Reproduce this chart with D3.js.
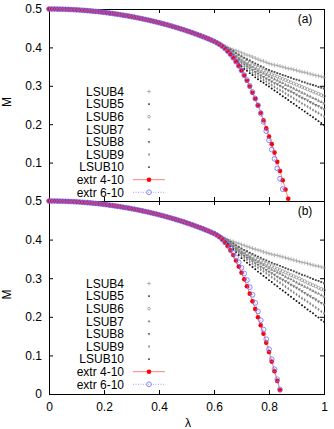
<!DOCTYPE html>
<html>
<head>
<meta charset="utf-8">
<script src="https://d3js.org/d3.v7.min.js"></script>
<style>
body { margin: 0; background: #fff; }
svg { display: block; }
text { font-family: "Liberation Sans", Arial, sans-serif; fill: #000; }
</style>
</head>
<body>
<svg id="chart" width="334" height="429"></svg>
<script>
// lambda grid: the common part runs 0..0.60, tails start at 0.61
var lambdaStep = 0.01
var tailStart = 0.61

// M(lambda) for 0 <= lambda <= 0.60, all series coincide there
var commonM = [
  0.5000, 0.5000, 0.4999, 0.4998, 0.4996, 0.4995, 0.4992, 0.4989, 0.4986, 0.4982,
  0.4978, 0.4973, 0.4968, 0.4963, 0.4957, 0.4951, 0.4944, 0.4936, 0.4929, 0.4921,
  0.4912, 0.4903, 0.4893, 0.4884, 0.4873, 0.4862, 0.4851, 0.4839, 0.4827, 0.4815,
  0.4801, 0.4788, 0.4774, 0.4759, 0.4744, 0.4728, 0.4713, 0.4696, 0.4679, 0.4662,
  0.4644, 0.4625, 0.4606, 0.4587, 0.4567, 0.4546, 0.4525, 0.4503, 0.4481, 0.4458,
  0.4434, 0.4410, 0.4385, 0.4360, 0.4333, 0.4306, 0.4279, 0.4250, 0.4221, 0.4190,
  0.4160
]

// panel (a) tails, lambda = 0.61 .. 1.00
var lsub4A = [0.413,0.410,0.406,0.403,0.400, 0.397,0.394,0.392,0.389,0.386, 0.383,0.380,0.378,0.375,0.372, 0.369,0.366,0.364,0.361,0.358, 0.356,0.354,0.353,0.351,0.349, 0.347,0.345,0.344,0.342,0.340, 0.338,0.336,0.335,0.333,0.331, 0.329,0.327,0.326,0.324,0.322]
var lsub5A = [0.413,0.409,0.405,0.402,0.398, 0.394,0.390,0.385,0.381,0.377, 0.373,0.369,0.366,0.362,0.358, 0.355,0.351,0.348,0.344,0.341, 0.338,0.336,0.333,0.331,0.328, 0.326,0.323,0.321,0.318,0.316, 0.314,0.311,0.309,0.306,0.304, 0.302,0.300,0.297,0.295,0.293]
var lsub6A = [0.413,0.409,0.405,0.401,0.397, 0.392,0.387,0.382,0.377,0.372, 0.368,0.363,0.359,0.354,0.350, 0.347,0.343,0.340,0.336,0.333, 0.330,0.327,0.324,0.321,0.318, 0.315,0.312,0.309,0.306,0.303, 0.300,0.297,0.294,0.291,0.288, 0.285,0.282,0.279,0.276,0.273]
var lsub7A = [0.412,0.409,0.404,0.400,0.395, 0.389,0.383,0.378,0.372,0.366, 0.361,0.357,0.352,0.348,0.343, 0.339,0.335,0.332,0.328,0.324, 0.321,0.317,0.314,0.310,0.307, 0.303,0.300,0.296,0.293,0.289, 0.286,0.282,0.279,0.275,0.272, 0.268,0.265,0.261,0.258,0.254]
var lsub8A = [0.412,0.408,0.403,0.398,0.393, 0.387,0.380,0.374,0.367,0.361, 0.356,0.351,0.346,0.341,0.336, 0.332,0.327,0.323,0.319,0.315, 0.311,0.307,0.304,0.300,0.296, 0.292,0.288,0.285,0.281,0.277, 0.273,0.269,0.266,0.262,0.258, 0.254,0.250,0.247,0.243,0.239]
var lsub9A = [0.412,0.408,0.403,0.397,0.391, 0.384,0.377,0.369,0.362,0.355, 0.350,0.345,0.339,0.334,0.329, 0.324,0.320,0.315,0.311,0.306, 0.302,0.297,0.293,0.289,0.285, 0.280,0.276,0.272,0.267,0.263, 0.259,0.254,0.250,0.246,0.242, 0.237,0.233,0.229,0.224,0.220]
var lsub10A = [0.412,0.407,0.402,0.396,0.389, 0.381,0.373,0.366,0.358,0.350, 0.344,0.339,0.333,0.328,0.322, 0.317,0.312,0.308,0.303,0.298, 0.293,0.288,0.283,0.278,0.273, 0.268,0.263,0.258,0.253,0.248, 0.243,0.238,0.233,0.228,0.223, 0.218,0.213,0.208,0.203,0.198]
var extr410A = [0.412,0.408,0.403,0.397,0.390,0.382,0.373,0.363,0.352,0.340,0.327,0.313,0.298,0.282,0.266,0.249,0.230,0.210,0.189,0.168,0.148,0.126,0.102,0.078,0.054,0.030,0.006]
var extr610A = [0.412,0.408,0.403,0.397,0.390,0.382,0.373,0.363,0.352,0.340,0.328,0.315,0.300,0.284,0.267,0.249,0.228,0.206,0.182,0.158,0.134,0.110,0.085,0.058,0.031]

// panel (b) tails
var lsub4B = [0.413,0.410,0.406,0.403,0.400, 0.397,0.395,0.392,0.390,0.387, 0.385,0.382,0.380,0.377,0.375, 0.373,0.371,0.368,0.366,0.364, 0.362,0.360,0.359,0.357,0.355, 0.353,0.351,0.349,0.347,0.345, 0.343,0.341,0.340,0.338,0.336, 0.334,0.332,0.331,0.329,0.327]
var lsub5B = [0.413,0.409,0.405,0.402,0.398, 0.394,0.390,0.385,0.381,0.377, 0.373,0.370,0.366,0.363,0.359, 0.356,0.353,0.349,0.346,0.343, 0.340,0.337,0.335,0.332,0.329, 0.326,0.323,0.321,0.318,0.315, 0.312,0.309,0.307,0.304,0.301, 0.298,0.295,0.293,0.290,0.287]
var lsub6B = [0.413,0.409,0.405,0.401,0.397, 0.392,0.387,0.382,0.377,0.372, 0.368,0.364,0.360,0.356,0.352, 0.348,0.345,0.341,0.338,0.334, 0.331,0.328,0.324,0.321,0.318, 0.315,0.312,0.308,0.305,0.302, 0.299,0.295,0.292,0.288,0.285, 0.282,0.279,0.275,0.272,0.269]
var lsub7B = [0.412,0.409,0.405,0.400,0.396, 0.390,0.385,0.379,0.374,0.368, 0.364,0.359,0.355,0.350,0.346, 0.342,0.338,0.334,0.330,0.326, 0.322,0.319,0.315,0.312,0.308, 0.304,0.300,0.297,0.293,0.289, 0.285,0.282,0.278,0.275,0.271, 0.267,0.263,0.260,0.256,0.252]
var lsub8B = [0.412,0.408,0.404,0.399,0.394, 0.388,0.382,0.375,0.369,0.363, 0.358,0.353,0.349,0.344,0.339, 0.335,0.330,0.326,0.321,0.317, 0.313,0.309,0.304,0.300,0.296, 0.292,0.288,0.283,0.279,0.275, 0.271,0.266,0.262,0.257,0.253, 0.249,0.245,0.240,0.236,0.232]
var lsub9B = [0.412,0.408,0.403,0.398,0.392, 0.385,0.378,0.372,0.365,0.358, 0.353,0.348,0.342,0.337,0.332, 0.327,0.322,0.318,0.313,0.308, 0.303,0.298,0.293,0.288,0.283, 0.278,0.273,0.268,0.263,0.258, 0.253,0.248,0.244,0.239,0.234, 0.229,0.224,0.219,0.214,0.209]
var lsub10B = [0.412,0.407,0.402,0.396,0.390, 0.382,0.375,0.367,0.360,0.352, 0.346,0.340,0.335,0.329,0.323, 0.317,0.312,0.306,0.301,0.295, 0.290,0.284,0.279,0.273,0.268, 0.263,0.257,0.252,0.246,0.241, 0.236,0.230,0.225,0.219,0.214, 0.209,0.203,0.198,0.192,0.187]
var extr410B = [0.412,0.407,0.400,0.392,0.383,0.372,0.360,0.346,0.330,0.314,0.297,0.279,0.260,0.240,0.220,0.199,0.178,0.156,0.133,0.109,0.084,0.059,0.034,0.010]
var extr610B = [0.412,0.407,0.401,0.394,0.386,0.377,0.366,0.354,0.341,0.327,0.312,0.295,0.277,0.257,0.236,0.214,0.191,0.167,0.142,0.116,0.090,0.064,0.038,0.012]

var seriesNames = ['LSUB4', 'LSUB5', 'LSUB6', 'LSUB7', 'LSUB8', 'LSUB9', 'LSUB10', 'extr 4-10', 'extr 6-10']
var xTicks = [0, 0.2, 0.4, 0.6, 0.8, 1]
var yTicks = [0, 0.1, 0.2, 0.3, 0.4, 0.5]

// marker looks for the LSUB series (gnuplot-ish point types, tiny and grey)
var lsubStyle = [
  { type: d3.symbolPlus || d3.symbolCross, size: 7, fill: 'none', stroke: '#9a9a9a', sw: 0.7 },
  { type: d3.symbolSquare, size: 3.5, fill: '#4a4a4a', stroke: 'none', sw: 0 },
  { type: d3.symbolCircle, size: 7, fill: 'none', stroke: '#777', sw: 0.6 },
  { type: d3.symbolTriangle, size: 5, fill: '#8a8a8a', stroke: 'none', sw: 0 },
  { type: d3.symbolTriangle, size: 5, fill: '#7a7a7a', stroke: 'none', sw: 0, rot: 180 },
  { type: d3.symbolDiamond, size: 4, fill: '#8a8a8a', stroke: 'none', sw: 0 },
  { type: d3.symbolCircle, size: 3, fill: '#111', stroke: 'none', sw: 0 }
]
var redCol = '#ff0000', redLine = '#ff8080'
var blueCol = '#6e6eff', blueLine = '#8c8cff'

function build(tail) {
  var pts = commonM.map(function(m, i) { return { l: i * lambdaStep, m: m } })
  tail.forEach(function(m, j) { pts.push({ l: tailStart + j * lambdaStep, m: m }) })
  return pts
}

var svg = d3.select('#chart')
var x = d3.scaleLinear().domain([0, 1]).range([49, 324])

function drawPanel(top, bottom, tails, label, isBottom) {
  var y = d3.scaleLinear().domain([0, 0.5]).range([bottom, top])
  var g = svg.append('g')

  // axes, ticks pointing inward
  g.append('g').attr('transform', 'translate(0,' + bottom + ')')
    .call(d3.axisBottom(x).tickValues(xTicks).tickSize(-4).tickPadding(8.5)
      .tickFormat(isBottom ? function(d) { return d3.format('')(d) } : function() { return '' }))
  g.append('g').attr('transform', 'translate(0,' + top + ')')
    .call(d3.axisTop(x).tickValues(xTicks).tickSize(-4).tickFormat(function() { return '' }))
  g.append('g').attr('transform', 'translate(49,0)')
    .call(d3.axisLeft(y).tickValues(yTicks).tickSize(-4).tickPadding(7)
      .tickFormat(function(d) { return (d === 0 && !isBottom) ? '' : d3.format('')(d) }))
  g.append('g').attr('transform', 'translate(324,0)')
    .call(d3.axisRight(y).tickValues(yTicks).tickSize(-4).tickFormat(function() { return '' }))
  g.selectAll('.domain').remove()
  g.selectAll('.tick line').attr('stroke', '#000')
  g.selectAll('.tick text').attr('font-size', 12).attr('font-family', '"Liberation Sans", Arial, sans-serif')

  g.append('rect')
    .attr('x', 49.5).attr('y', top + 0.5)
    .attr('width', 275).attr('height', bottom - top)
    .attr('fill', 'none').attr('stroke', '#000').attr('stroke-width', 1)

  // LSUB markers
  for (var k = 0; k < 7; k++) {
    var st = lsubStyle[k]
    var sym = d3.symbol().type(st.type).size(st.size)
    g.append('g').selectAll('path')
      .data(build(tails[k]))
      .join('path')
      .attr('d', sym)
      .attr('transform', function(d) {
        return 'translate(' + x(d.l) + ',' + y(d.m) + ')' + (st.rot ? ' rotate(' + st.rot + ')' : '')
      })
      .attr('fill', st.fill)
      .attr('stroke', st.stroke)
      .attr('stroke-width', st.sw)
  }

  var line = d3.line().x(function(d) { return x(d.l) }).y(function(d) { return y(d.m) })

  // extr 4-10
  var red = build(tails[7])
  g.append('path').datum(red).attr('d', line)
    .attr('fill', 'none').attr('stroke', redLine).attr('stroke-width', 1)
  g.append('g').selectAll('circle').data(red).join('circle')
    .attr('cx', function(d) { return x(d.l) })
    .attr('cy', function(d) { return y(d.m) })
    .attr('r', 2.3)
    .attr('fill', redCol)

  // extr 6-10
  var blue = build(tails[8])
  g.append('path').datum(blue).attr('d', line)
    .attr('fill', 'none').attr('stroke', blueLine).attr('stroke-width', 0.8)
    .attr('stroke-dasharray', '1,1.5')
  g.append('g').selectAll('circle').data(blue).join('circle')
    .attr('cx', function(d) { return x(d.l) })
    .attr('cy', function(d) { return y(d.m) })
    .attr('r', 2.4)
    .attr('fill', 'none')
    .attr('stroke', blueCol)
    .attr('stroke-width', 0.8)

  // legend
  var leg = g.append('g')
  seriesNames.forEach(function(name, i) {
    var ly = top + 82.5 + i * 12.6
    leg.append('text').attr('x', 124).attr('y', ly).attr('dy', '0.35em')
      .attr('text-anchor', 'end').attr('font-size', 12).text(name)
    if (i < 7) {
      var st = lsubStyle[i]
      leg.append('path').attr('d', d3.symbol().type(st.type).size(st.size * 0.8))
        .attr('transform', 'translate(149,' + ly + ')' + (st.rot ? ' rotate(' + st.rot + ')' : ''))
        .attr('fill', st.fill).attr('stroke', st.stroke).attr('stroke-width', st.sw)
    } else if (i === 7) {
      leg.append('line').attr('x1', 133).attr('x2', 165).attr('y1', ly).attr('y2', ly)
        .attr('stroke', redLine).attr('stroke-width', 1)
      leg.append('circle').attr('cx', 149).attr('cy', ly).attr('r', 2.3).attr('fill', redCol)
    } else {
      leg.append('line').attr('x1', 133).attr('x2', 165).attr('y1', ly).attr('y2', ly)
        .attr('stroke', blueLine).attr('stroke-width', 0.8).attr('stroke-dasharray', '1,1.5')
      leg.append('circle').attr('cx', 149).attr('cy', ly).attr('r', 2.4)
        .attr('fill', 'none').attr('stroke', blueCol).attr('stroke-width', 0.8)
    }
  })

  g.append('text').attr('x', 305).attr('y', top + 14).attr('text-anchor', 'middle')
    .attr('font-size', 12).text(label)

  g.append('text')
    .attr('transform', 'translate(7,' + ((top + bottom) / 2 - 3) + ') rotate(-90)')
    .attr('dy', '0.35em').attr('text-anchor', 'middle').attr('font-size', 12).text('M')
}

drawPanel(9, 201, [lsub4A, lsub5A, lsub6A, lsub7A, lsub8A, lsub9A, lsub10A, extr410A, extr610A], '(a)', false)
drawPanel(201, 394, [lsub4B, lsub5B, lsub6B, lsub7B, lsub8B, lsub9B, lsub10B, extr410B, extr610B], '(b)', true)

svg.append('text').attr('x', 188).attr('y', 427).attr('text-anchor', 'middle')
  .attr('font-size', 12).text('λ')
</script>
</body>
</html>
